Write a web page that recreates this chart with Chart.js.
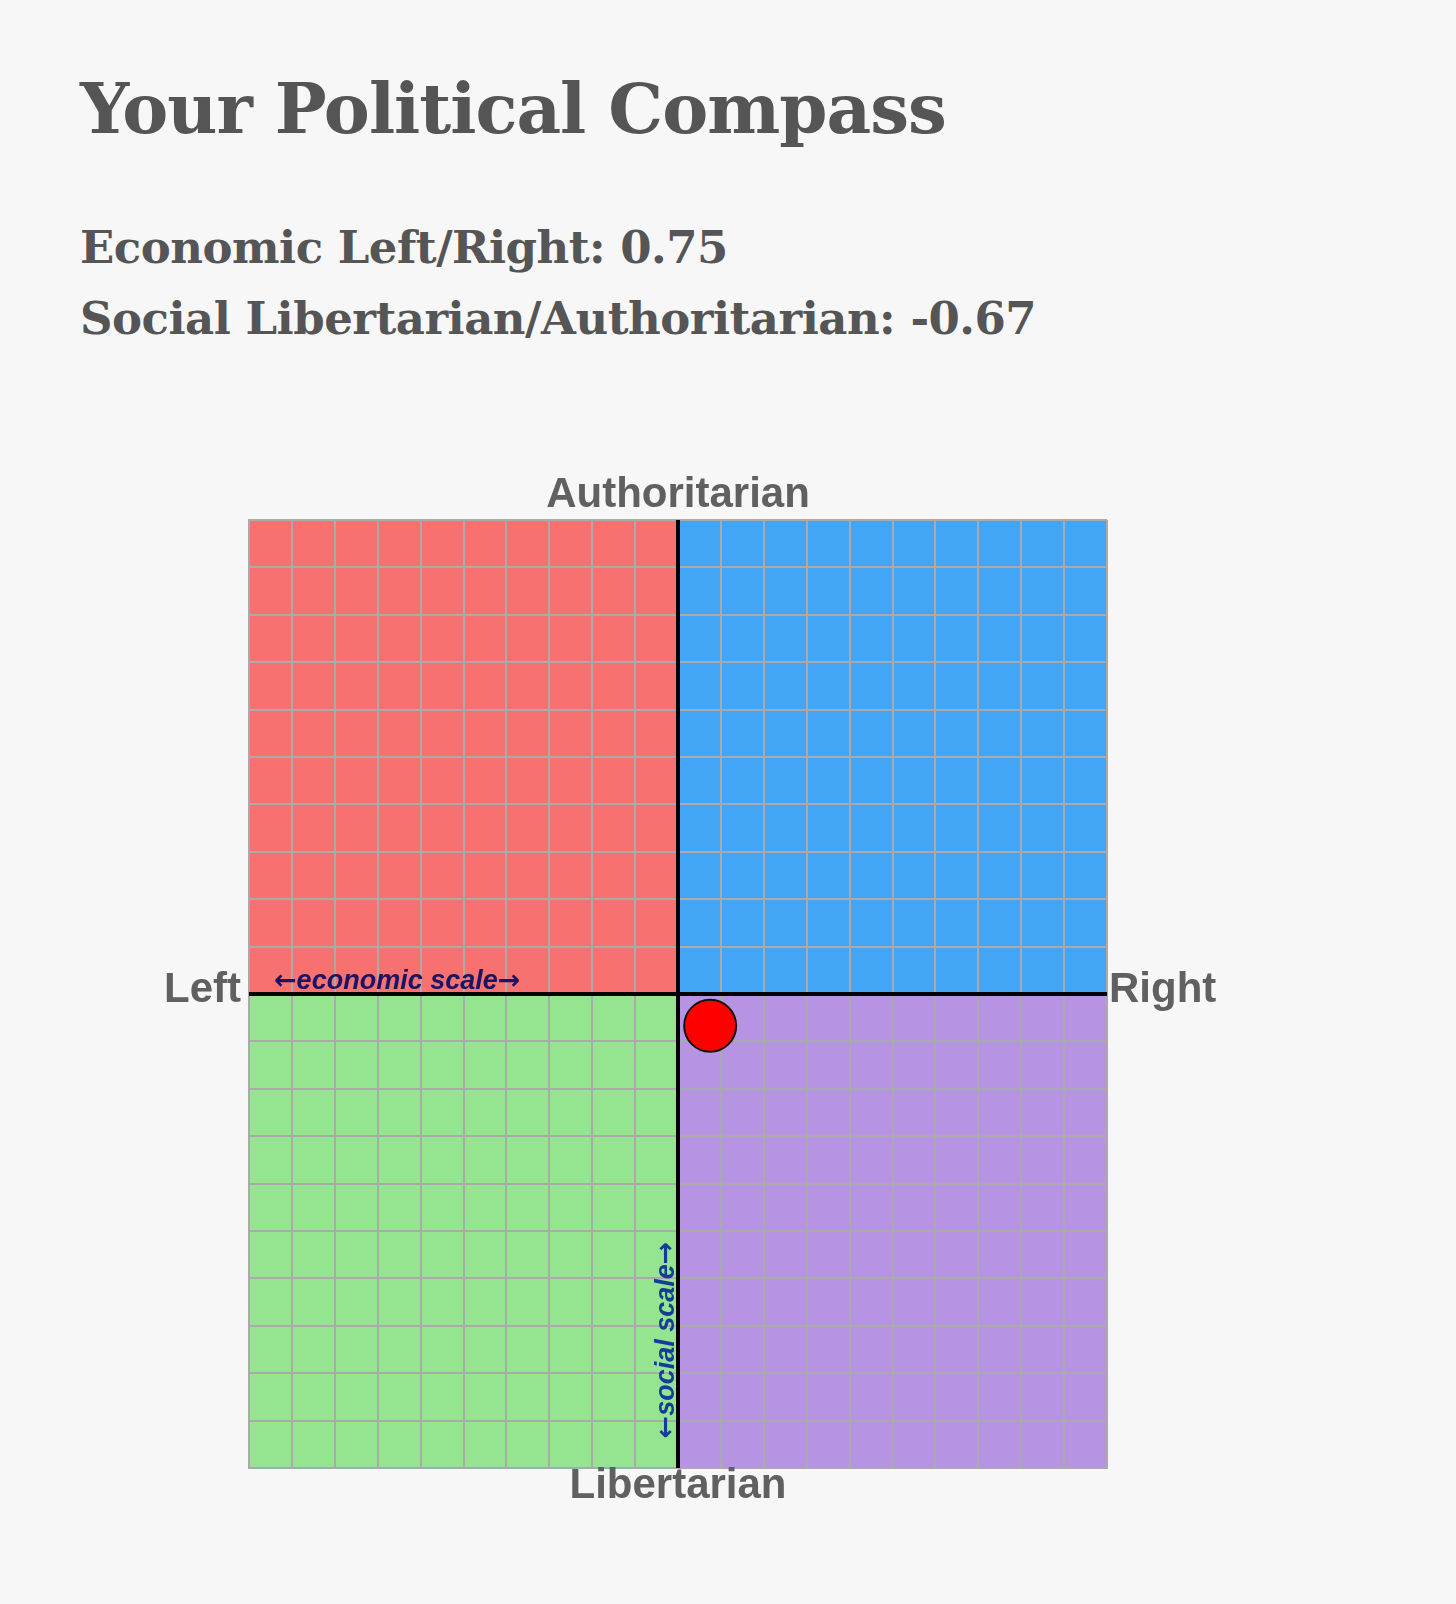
<!DOCTYPE html>
<html>
<head>
<meta charset="utf-8">
<title>Your Political Compass</title>
<script src="https://cdn.jsdelivr.net/npm/chart.js@4.4.0/dist/chart.umd.min.js"></script>
<style>
    body {
        margin: 0;
        background: #f7f7f7;
        width: 1456px;
        height: 1604px;
        overflow: hidden;
        position: relative;
    }
    h1, h2 {
        position: absolute;
        left: 80px;
        margin: 0;
        line-height: 1;
        color: #555;
        font-family: "DejaVu Serif", Georgia, serif;
        font-weight: bold;
        white-space: nowrap;
    }
    h1 { top: 74px; font-size: 69px; letter-spacing: -1px; }
    h2 { font-size: 45px; letter-spacing: -0.5px; }
    #econ { top: 225px; }
    #soc { top: 296px; }
    #compass {
        position: absolute;
        left: 0;
        top: 440px;
    }
</style>
</head>
<body>
<h1>Your Political Compass</h1>
<h2 id="econ"></h2>
<h2 id="soc"></h2>
<canvas id="compass" width="1456" height="1164"></canvas>

<script>
// scores
const economicScore = [0.75];
const socialScore = [-0.67];

// axis range and labels
const axisMin = -10;
const axisMax = 10;
const axisLabels = ['Authoritarian', 'Libertarian', 'Left', 'Right'];
const scaleLabels = ['economic scale', 'social scale'];

// quadrants: [xFrom, xTo, yFrom, yTo]
const quadrantRanges = [
    [-10, 0, 0, 10],
    [0, 10, 0, 10],
    [-10, 0, -10, 0],
    [0, 10, -10, 0]
];
const quadrantColors = ['#f87171', '#42a5f5', '#95e490', '#b794e3'];

document.getElementById('econ').textContent = 'Economic Left/Right: ' + economicScore[0];
document.getElementById('soc').textContent = 'Social Libertarian/Authoritarian: ' + socialScore[0];

const textFont = 'italic bold 27px "Liberation Sans", Arial, sans-serif';
const arrowFont = 'bold 27px "DejaVu Sans", sans-serif';

// draws "←label→" starting at x (left aligned), arrows in a font with wider glyphs
function drawScaleLabel(ctx, label, x, y) {
    ctx.font = arrowFont;
    const aw = ctx.measureText('\u2190').width;
    ctx.fillText('\u2190', x, y);
    ctx.font = textFont;
    const tw = ctx.measureText(label).width;
    ctx.fillText(label, x + aw, y);
    ctx.font = arrowFont;
    ctx.fillText('\u2192', x + aw + tw, y);
    return aw * 2 + tw;
}

function scaleLabelWidth(ctx, label) {
    ctx.font = arrowFont;
    const aw = ctx.measureText('\u2190').width;
    ctx.font = textFont;
    return aw * 2 + ctx.measureText(label).width;
}

const quadrantPlugin = {
    id: 'quadrants',
    beforeDraw(chart) {
        const ctx = chart.ctx;
        const x = chart.scales.x;
        const y = chart.scales.y;
        ctx.save();
        quadrantRanges.forEach((q, i) => {
            const left = x.getPixelForValue(q[0]);
            const right = x.getPixelForValue(q[1]);
            const top = y.getPixelForValue(q[3]);
            const bottom = y.getPixelForValue(q[2]);
            ctx.fillStyle = quadrantColors[i];
            ctx.fillRect(left, top, right - left, bottom - top);
        });
        ctx.restore();
    },
    beforeDatasetsDraw(chart) {
        // the two centre axes
        const ctx = chart.ctx;
        const area = chart.chartArea;
        const cx = chart.scales.x.getPixelForValue(0);
        const cy = chart.scales.y.getPixelForValue(0);
        ctx.save();
        ctx.strokeStyle = '#000';
        ctx.lineWidth = 4;
        ctx.beginPath();
        ctx.moveTo(area.left, cy);
        ctx.lineTo(area.right, cy);
        ctx.moveTo(cx, area.top);
        ctx.lineTo(cx, area.bottom);
        ctx.stroke();

        // scale hints
        ctx.textAlign = 'left';
        ctx.textBaseline = 'alphabetic';
        ctx.fillStyle = '#1b1464';
        drawScaleLabel(ctx, scaleLabels[0], area.left + 25, cy - 5);

        ctx.translate(cx - 4, area.bottom - 128);
        ctx.rotate(-Math.PI / 2);
        ctx.fillStyle = '#163d96';
        const w = scaleLabelWidth(ctx, scaleLabels[1]);
        drawScaleLabel(ctx, scaleLabels[1], -w / 2, 0);
        ctx.restore();
    },
    afterDraw(chart) {
        const ctx = chart.ctx;
        const area = chart.chartArea;
        const cx = chart.scales.x.getPixelForValue(0);
        const cy = chart.scales.y.getPixelForValue(0);
        ctx.save();
        ctx.font = 'bold 42px "Liberation Sans", Arial, sans-serif';
        ctx.fillStyle = '#606060';
        ctx.textBaseline = 'alphabetic';
        ctx.textAlign = 'center';
        ctx.fillText(axisLabels[0], cx, area.top - 13);
        ctx.fillText(axisLabels[1], cx, area.bottom + 30);
        ctx.textAlign = 'right';
        ctx.fillText(axisLabels[2], area.left - 8, cy + 8);
        ctx.textAlign = 'left';
        ctx.fillText(axisLabels[3], area.right + 2, cy + 8);
        ctx.restore();
    }
};

const gridOptions = {
    color: '#aaaaaa',
    lineWidth: 2,
    drawTicks: false
};

new Chart(document.getElementById('compass'), {
    type: 'scatter',
    data: {
        datasets: [{
            label: 'You',
            data: economicScore.map((v, i) => ({ x: v, y: socialScore[i] })),
            backgroundColor: '#ff0000',
            borderColor: '#111',
            borderWidth: 2,
            pointRadius: 26,
            pointHoverRadius: 26
        }]
    },
    options: {
        responsive: false,
        animation: false,
        devicePixelRatio: 1,
        events: [],
        layout: {
            padding: { left: 249, right: 349, top: 80, bottom: 136 }
        },
        plugins: {
            legend: { display: false },
            tooltip: { enabled: false }
        },
        scales: {
            x: {
                type: 'linear',
                min: axisMin,
                max: axisMax,
                ticks: { display: false, stepSize: 1 },
                grid: gridOptions,
                border: { color: '#aaaaaa', width: 2 }
            },
            y: {
                type: 'linear',
                min: axisMin,
                max: axisMax,
                ticks: { display: false, stepSize: 1 },
                grid: gridOptions,
                border: { color: '#aaaaaa', width: 2 }
            }
        }
    },
    plugins: [quadrantPlugin]
});
</script>
</body>
</html>
